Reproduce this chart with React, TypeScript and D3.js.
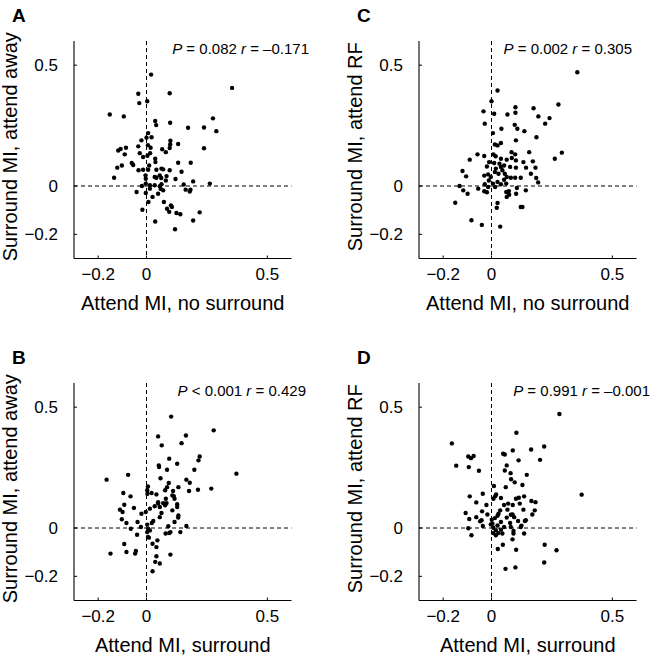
import React from 'react';
import * as d3 from 'd3';

// ---------- data ----------
const DOMAIN: [number, number] = [-0.3, 0.6];
const X_TICKS = [-0.2, 0, 0.5];
const Y_TICKS = [-0.2, 0, 0.5];

const panelLetters = ['A', 'B', 'C', 'D'];
const xLabels = ['Attend MI, no surround', 'Attend MI, surround', 'Attend MI, no surround', 'Attend MI, surround'];
const yLabels = ['Surround MI, attend away', 'Surround MI, attend away', 'Surround MI, attend RF', 'Surround MI, attend RF'];
const pStats = ['= 0.082', '< 0.001', '= 0.002', '= 0.991'];
const rStats = ['= \u20130.171', '= 0.429', '= 0.305', '= \u20130.001'];

const aX = [0.019, 0.354, -0.034, 0.096, -0.030, 0.003, -0.152, -0.094, 0.036, 0.040, 0.098, 0.275, 0.172, 0.238, 0.289, 0.007, 0.021, -0.021, 0.000, 0.099, 0.098, 0.131, -0.034, 0.006, 0.017, 0.015, 0.065, 0.080, 0.096, 0.238, -0.117, -0.107, -0.085, -0.090, -0.014, 0.004, 0.036, 0.037, -0.102, -0.121, -0.061, -0.055, -0.134, -0.033, -0.014, 0.011, 0.007, 0.041, 0.062, 0.069, 0.096, 0.131, 0.183, 0.145, -0.004, 0.034, 0.055, 0.061, 0.083, 0.080, 0.120, 0.193, 0.262, -0.019, -0.003, 0.014, 0.034, 0.055, 0.062, 0.154, 0.162, 0.179, 0.182, -0.041, -0.003, 0.048, 0.059, 0.025, 0.008, 0.072, 0.101, 0.085, 0.105, 0.094, 0.124, 0.140, -0.017, 0.220, 0.036, 0.193, 0.118, -0.003, 0.041, 0.069, -0.028, 0.014];
const aY = [0.461, 0.406, 0.382, 0.384, 0.343, 0.351, 0.296, 0.288, 0.269, 0.252, 0.262, 0.280, 0.241, 0.242, 0.227, 0.219, 0.202, 0.189, 0.200, 0.187, 0.172, 0.174, 0.164, 0.169, 0.158, 0.136, 0.152, 0.140, 0.157, 0.156, 0.147, 0.153, 0.158, 0.131, 0.120, 0.125, 0.113, 0.099, 0.085, 0.076, 0.095, 0.087, 0.034, 0.065, 0.067, 0.085, 0.067, 0.067, 0.072, 0.069, 0.065, 0.096, 0.096, 0.059, 0.044, 0.037, 0.044, 0.033, 0.041, 0.023, 0.029, 0.019, 0.010, 0.000, 0.010, 0.003, 0.003, -0.001, 0.007, 0.006, -0.015, -0.023, -0.015, -0.025, -0.029, -0.032, -0.012, -0.045, -0.066, -0.066, -0.080, -0.094, -0.087, -0.107, -0.112, -0.117, -0.098, -0.109, -0.147, -0.143, -0.179, 0.030, 0.034, -0.018, 0.136, -0.011];

const bX = [0.102, 0.278, 0.048, 0.163, 0.063, 0.145, 0.094, 0.220, 0.215, 0.051, 0.052, 0.127, 0.085, 0.198, 0.372, -0.165, -0.076, 0.058, 0.165, 0.179, 0.092, 0.085, 0.006, 0.003, 0.021, 0.041, 0.077, 0.110, 0.132, 0.176, 0.213, 0.268, -0.096, -0.066, -0.092, -0.110, -0.099, -0.052, -0.021, -0.003, 0.014, 0.034, 0.048, 0.055, 0.069, 0.077, 0.107, 0.116, 0.127, 0.127, 0.132, 0.131, 0.116, 0.140, 0.165, -0.102, -0.083, -0.065, -0.037, -0.023, 0.003, 0.007, 0.022, 0.028, 0.055, 0.062, 0.090, 0.079, 0.094, 0.099, -0.039, 0.003, 0.006, 0.045, 0.025, 0.041, -0.092, -0.083, -0.044, -0.047, -0.149, 0.099, 0.041, 0.036, 0.055, 0.025, 0.004, 0.113, 0.048, 0.080, 0.083, 0.107, 0.014, 0.010];
const bY = [0.461, 0.404, 0.379, 0.383, 0.342, 0.351, 0.287, 0.296, 0.280, 0.259, 0.252, 0.266, 0.241, 0.241, 0.225, 0.200, 0.220, 0.206, 0.200, 0.187, 0.186, 0.169, 0.172, 0.156, 0.145, 0.139, 0.156, 0.153, 0.169, 0.153, 0.158, 0.163, 0.145, 0.131, 0.096, 0.076, 0.066, 0.083, 0.059, 0.066, 0.080, 0.090, 0.101, 0.087, 0.103, 0.094, 0.135, 0.121, 0.098, 0.087, 0.052, 0.043, 0.025, -0.017, 0.008, 0.036, 0.021, -0.003, 0.025, 0.004, 0.014, -0.003, 0.021, 0.029, 0.045, 0.062, 0.007, -0.023, -0.021, -0.017, -0.028, -0.017, -0.037, -0.051, -0.065, -0.079, -0.066, -0.099, -0.095, -0.106, -0.106, -0.110, -0.117, -0.140, -0.147, -0.179, 0.142, 0.132, 0.107, 0.121, 0.103, 0.073, -0.010, -0.040];

const cX = [0.355, 0.025, 0.000, 0.277, 0.099, 0.174, -0.033, 0.011, 0.066, 0.099, 0.240, 0.194, 0.222, -0.028, 0.096, 0.107, 0.041, 0.136, 0.006, 0.186, 0.101, 0.014, 0.025, 0.039, 0.156, 0.083, 0.098, 0.291, 0.262, -0.058, -0.030, -0.090, 0.008, 0.017, 0.039, 0.063, 0.084, 0.101, 0.132, 0.171, -0.019, 0.011, 0.033, 0.052, 0.077, 0.101, 0.143, 0.182, -0.120, -0.105, -0.030, -0.014, -0.003, 0.014, 0.029, 0.045, 0.055, 0.063, 0.080, 0.098, 0.121, 0.163, 0.185, 0.193, -0.132, -0.117, -0.099, -0.055, -0.028, -0.019, -0.011, 0.006, 0.015, 0.039, 0.061, 0.061, 0.072, 0.102, 0.142, 0.063, 0.025, 0.022, 0.121, -0.150, -0.083, -0.040, 0.036, -0.030, 0.128, 0.105, 0.073, 0.018, 0.039, -0.010, 0.052, 0.025, -0.014];
const cY = [0.471, 0.395, 0.351, 0.337, 0.326, 0.322, 0.309, 0.299, 0.296, 0.303, 0.281, 0.288, 0.258, 0.258, 0.253, 0.237, 0.237, 0.227, 0.219, 0.202, 0.189, 0.172, 0.168, 0.178, 0.140, 0.140, 0.131, 0.138, 0.113, 0.131, 0.124, 0.109, 0.131, 0.123, 0.113, 0.109, 0.116, 0.106, 0.099, 0.102, 0.081, 0.095, 0.092, 0.085, 0.079, 0.076, 0.076, 0.076, 0.062, 0.040, 0.043, 0.048, 0.037, 0.058, 0.051, 0.065, 0.051, 0.037, 0.034, 0.034, 0.034, 0.051, 0.033, 0.015, 0.000, -0.018, -0.032, -0.011, 0.007, -0.026, 0.023, 0.010, -0.004, 0.007, 0.010, -0.025, -0.021, -0.032, -0.018, -0.045, -0.070, -0.090, -0.087, -0.069, -0.142, -0.161, -0.168, -0.022, -0.087, -0.008, -0.036, 0.072, 0.079, 0.099, 0.026, 0.017, -0.004];

const dX = [0.281, 0.103, -0.164, 0.218, 0.088, 0.164, 0.048, 0.055, -0.096, -0.085, -0.074, -0.146, -0.094, 0.112, 0.201, 0.063, -0.052, 0.055, 0.079, 0.146, 0.081, 0.096, 0.010, 0.059, 0.128, 0.373, -0.090, -0.036, 0.019, 0.008, 0.039, 0.101, 0.113, 0.135, 0.165, 0.182, -0.063, -0.021, 0.052, 0.069, 0.088, 0.117, 0.132, 0.179, 0.169, -0.107, -0.092, -0.063, -0.039, -0.017, -0.041, -0.036, -0.096, -0.083, 0.001, 0.014, 0.025, 0.036, 0.066, 0.063, 0.087, 0.039, 0.077, 0.110, 0.138, 0.124, 0.004, 0.008, 0.018, 0.028, 0.045, 0.006, 0.091, 0.135, 0.047, 0.026, 0.102, 0.220, 0.269, 0.218, 0.058, 0.099, -0.047, 0.029, 0.080, 0.094, 0.142, 0.080, 0.121, 0.091, 0.018, -0.003, 0.025, 0.039, 0.052, 0.087, 0.015];
const dY = [0.472, 0.394, 0.350, 0.337, 0.321, 0.325, 0.307, 0.304, 0.296, 0.289, 0.298, 0.258, 0.252, 0.280, 0.282, 0.259, 0.237, 0.238, 0.227, 0.220, 0.202, 0.189, 0.174, 0.169, 0.178, 0.138, 0.131, 0.142, 0.139, 0.121, 0.124, 0.121, 0.125, 0.131, 0.112, 0.107, 0.106, 0.095, 0.095, 0.101, 0.095, 0.101, 0.076, 0.073, 0.056, 0.062, 0.037, 0.045, 0.069, 0.056, 0.032, 0.008, -0.001, -0.030, 0.034, 0.041, 0.051, 0.073, 0.076, 0.043, 0.056, 0.025, 0.021, 0.029, 0.029, 0.010, 0.018, 0.001, -0.010, -0.021, -0.023, -0.021, -0.023, -0.023, -0.069, -0.087, -0.090, -0.069, -0.092, -0.143, -0.169, -0.163, 0.028, 0.059, 0.055, 0.045, 0.032, 0.004, 0.004, -0.012, -0.030, 0.015, 0.011, -0.007, 0.004, -0.047, 0.131];

const panelXs = [aX, bX, cX, dX];
const panelYs = [aY, bY, cY, dY];

// ---------- layout ----------
const W = 655;
const H = 661;
const COL_LEFT = [74, 74, 419, 419];
const ROW_TOP = [41, 383, 41, 383];
const PLOT = 217.5;
const STAT_RIGHT = [309, 306, 632, 650];
const FONT = '"Liberation Sans", Arial, Helvetica, sans-serif';

function tickText(v: number): string {
  if (v === 0) return '0';
  return v < 0 ? '\u2212' + String(Math.abs(v)) : String(v);
}

function Panel({ i }: { i: number }) {
  const left = COL_LEFT[i];
  const top = ROW_TOP[i];
  const x = d3.scaleLinear().domain(DOMAIN).range([left, left + PLOT]);
  const y = d3.scaleLinear().domain(DOMAIN).range([top + PLOT, top]);
  const xs = panelXs[i];
  const ys = panelYs[i];
  const bottom = y(DOMAIN[0]);
  const right = x(DOMAIN[1]);
  return (
    <g>
      {/* dashed zero lines */}
      <line x1={left} x2={right} y1={y(0)} y2={y(0)} stroke="#000" strokeWidth={1} strokeDasharray="4,3" />
      <line x1={x(0)} x2={x(0)} y1={top} y2={bottom} stroke="#000" strokeWidth={1} strokeDasharray="4,3" />
      {/* axes */}
      <line x1={left} x2={right} y1={bottom} y2={bottom} stroke="#000" strokeWidth={1.1} />
      <line x1={left} x2={left} y1={top} y2={bottom} stroke="#000" strokeWidth={1.1} />
      {X_TICKS.map((t) => (
        <g key={'xt' + t}>
          <line x1={x(t)} x2={x(t)} y1={bottom} y2={bottom - 3} stroke="#000" strokeWidth={1} />
          <text x={x(t)} y={bottom + 21} textAnchor="middle" fontSize={17} fontFamily={FONT}>{tickText(t)}</text>
        </g>
      ))}
      {Y_TICKS.map((t) => (
        <g key={'yt' + t}>
          <line x1={left} x2={left + 3} y1={y(t)} y2={y(t)} stroke="#000" strokeWidth={1} />
          <text x={left - 16} y={y(t)} dy="0.35em" textAnchor="end" fontSize={17} fontFamily={FONT}>{tickText(t)}</text>
        </g>
      ))}
      {/* points */}
      {xs.map((v, k) => (
        <circle key={k} cx={x(v)} cy={y(ys[k])} r={2.2} fill="#000" />
      ))}
      {/* labels */}
      <text x={(left + right) / 2} y={bottom + 51} textAnchor="middle" fontSize={20} fontFamily={FONT}>{xLabels[i]}</text>
      <text transform={`translate(${left - 57},${(top + bottom) / 2 - 3}) rotate(-90)`} textAnchor="middle" fontSize={20} fontFamily={FONT}>{yLabels[i]}</text>
      <text x={left - 62} y={top - 19} fontSize={19} fontWeight="bold" fontFamily={FONT}>{panelLetters[i]}</text>
      <text x={STAT_RIGHT[i]} y={top + 13} textAnchor="end" fontSize={15} fontFamily={FONT}>
        <tspan fontStyle="italic">P</tspan>{' ' + pStats[i] + ' '}<tspan fontStyle="italic">r</tspan>{' ' + rStats[i]}
      </text>
    </g>
  );
}

export default function App() {
  return (
    <svg width={W} height={H} viewBox={`0 0 ${W} ${H}`} style={{ position: 'absolute', left: 0, top: 0, background: '#fff' }}>
      <rect x={0} y={0} width={W} height={H} fill="#fff" />
      {[0, 1, 2, 3].map((i) => (
        <Panel key={i} i={i} />
      ))}
    </svg>
  );
}
